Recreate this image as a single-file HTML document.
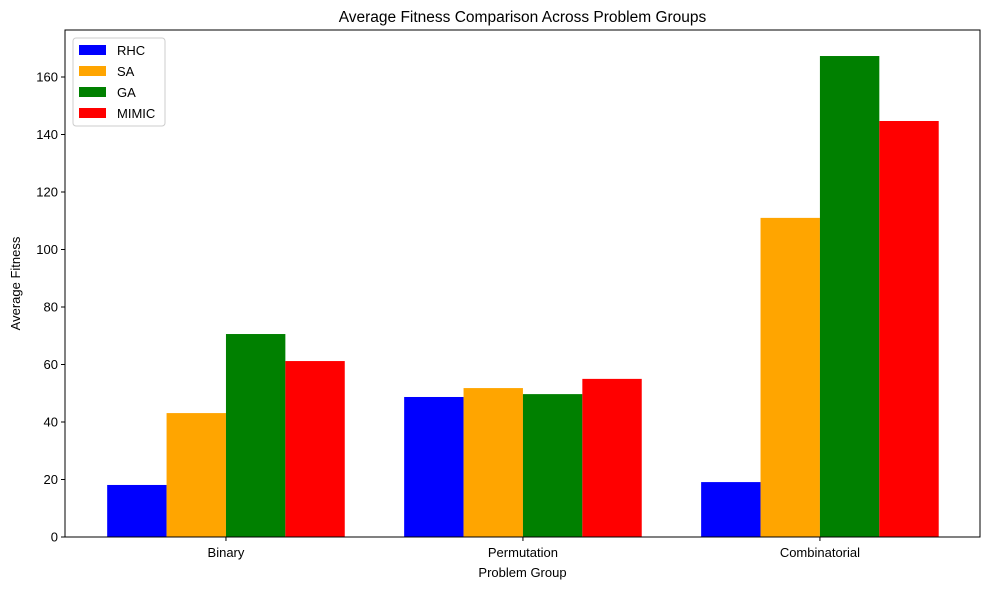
<!DOCTYPE html>
<html><head><meta charset="utf-8"><style>
body{margin:0;background:#fff;font-family:"Liberation Sans","DejaVu Sans",sans-serif;}
</style></head><body>
<svg id="chart" width="989" height="590" xmlns="http://www.w3.org/2000/svg"></svg>
<script>
const categories = ["Binary","Permutation","Combinatorial"];
const seriesNames = ["RHC","SA","GA","MIMIC"];
const seriesColors = ["blue","orange","green","red"];
const rhcValues = [18.1, 48.7, 19.1];
const saValues = [43.1, 51.8, 111.0];
const gaValues = [70.6, 49.7, 167.3];
const mimicValues = [61.2, 55.0, 144.7];
const yTicks = [0,20,40,60,80,100,120,140,160];

const allSeries=[rhcValues,saValues,gaValues,mimicValues];
const svg=document.getElementById('chart');
const NS="http://www.w3.org/2000/svg";
const L=65,R=980,T=30,B=537;
const xMin=-0.542,xMax=2.539,yMax=176.35;
const X=v=>L+(v-xMin)/(xMax-xMin)*(R-L);
const Y=v=>B-v/yMax*(B-T);
function mk(tag,attrs,parent){const e=document.createElementNS(NS,tag);for(const k in attrs)e.setAttribute(k,attrs[k]);(parent||svg).appendChild(e);return e;}
function txt(s,attrs){const e=mk('text',Object.assign({'font-size':13,fill:'#000'},attrs));e.textContent=s;return e;}

const bw=0.2;
allSeries.forEach((vals,si)=>{
  vals.forEach((v,ci)=>{
    const x0=X(ci+(si-1.5)*bw-bw/2), x1=X(ci+(si-1.5)*bw+bw/2);
    const r=mk('rect',{x:x0,y:Y(v),width:x1-x0,height:B-Y(v),fill:seriesColors[si]});
    
    
  });
});
yTicks.forEach(t=>{
  const l=mk('line',{x1:L-4,x2:L,y1:Y(t),y2:Y(t),stroke:'#000'});
  
  
  const e=txt(String(t),{x:L-7,y:Y(t)+4.5,'text-anchor':'end'});
  
  
});
categories.forEach((c,i)=>{
  const l=mk('line',{x1:X(i),x2:X(i),y1:B,y2:B+4,stroke:'#000'});
  
  
  const e=txt(c,{x:X(i),y:B+20,'text-anchor':'middle'});
  
  
});
const frame=mk('rect',{x:L,y:T,width:R-L,height:B-T,fill:'none',stroke:'#000','stroke-width':1});


const title=txt("Average Fitness Comparison Across Problem Groups",{x:(L+R)/2,y:T-8,'text-anchor':'middle','font-size':15.5});


const xt=txt("Problem Group",{x:(L+R)/2,y:577,'text-anchor':'middle'});


const yt=txt("Average Fitness",{x:0,y:0,'text-anchor':'middle',transform:`translate(20,${(T+B)/2}) rotate(-90)`});


const lg=mk('rect',{x:73,y:38,width:92,height:88,fill:'#fff',stroke:'#ccc',rx:3});


seriesNames.forEach((n,i)=>{
  const y=50+i*21;
  const sw=mk('rect',{x:79,y:y-5,width:27,height:10,fill:seriesColors[i]});
  
  
  const e=txt(n,{x:117,y:y+5});
  
  
});
</script>
</body></html>
